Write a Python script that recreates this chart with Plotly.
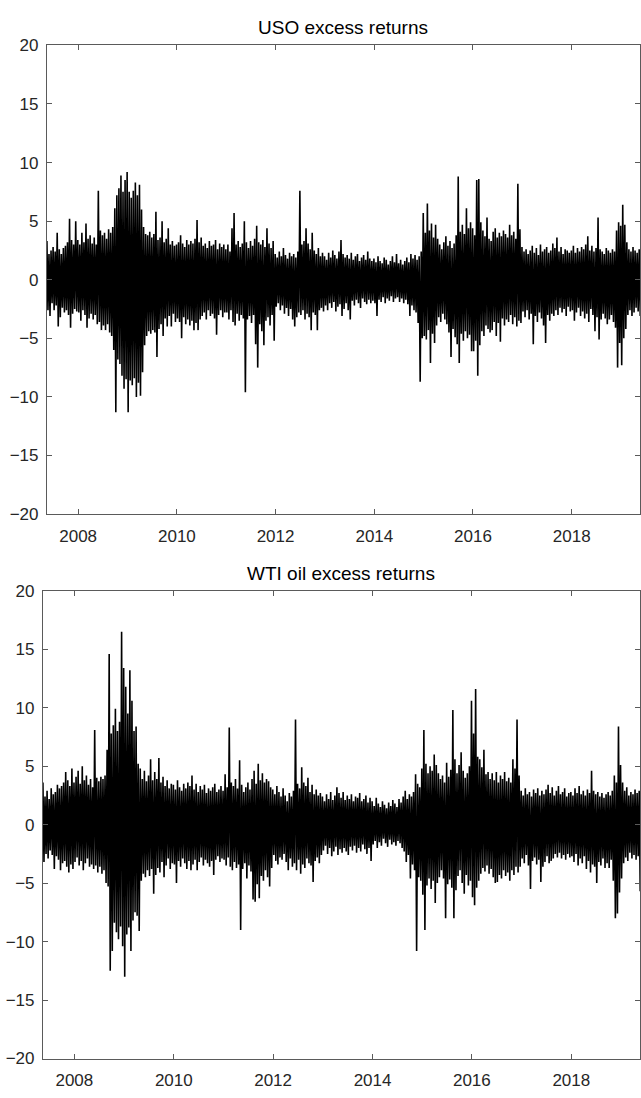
import pandas as pd
import plotly.graph_objects as go

# ---------------- data (half-monthly envelope of daily excess returns, %) ----------------
# Each half-month gives the highest and lowest daily value seen in the picture.
start_date = "2007-05-15"
n_periods = 289

uso_high = [
    3.3, 2.2, 2.5, 2.8, 2.4, 4.0, 2.6, 2.2, 2.7, 2.9, 3.2, 5.2, 3.4, 3.0, 5.0,                      # 2007
    3.4, 3.0, 4.0, 3.2, 4.8, 3.5, 3.8, 3.1, 3.6, 3.0, 7.6, 4.2, 3.8, 4.0, 3.5, 4.3, 4.0, 4.5, 6.1, 7.2, 7.8, 8.9, 7.5, 8.5,  # 2008
    9.2, 7.5, 7.0, 7.6, 8.3, 7.2, 8.1, 6.0, 4.5, 3.9, 3.8, 4.1, 3.6, 3.9, 5.8, 3.4, 3.6, 5.0, 3.2, 3.5, 4.4, 3.0, 3.3, 2.9,  # 2009
    3.0, 3.2, 3.8, 3.1, 2.8, 3.4, 3.0, 3.3, 3.1, 3.5, 5.1, 3.2, 3.6, 2.9, 3.1, 2.7, 3.3, 2.9, 3.0, 3.4, 2.6, 3.1, 2.8, 3.0,  # 2010
    2.6, 3.0, 2.4, 4.4, 5.7, 3.0, 3.3, 2.8, 3.1, 5.0, 3.2, 2.7, 3.3, 2.9, 3.5, 4.6, 3.2, 3.0, 3.4, 2.8, 4.4, 3.1, 2.7, 3.3,  # 2011
    2.2, 1.9, 2.4, 2.0, 2.7, 2.1, 1.8, 2.3, 2.0, 2.2, 1.9, 2.4, 7.6, 3.0, 3.3, 4.4, 3.1, 2.6, 4.0, 2.5, 2.2, 2.7, 2.0, 2.3,  # 2012
    2.0, 1.7, 2.3, 1.9, 2.5, 2.1, 1.8, 2.4, 3.4, 2.2, 1.9, 2.1, 1.8, 2.3, 1.7, 2.0, 2.2, 1.6, 1.9, 2.1, 1.7, 2.4, 1.8, 1.6,  # 2013
    1.8, 1.5, 2.0, 1.6, 1.4, 1.9, 1.7, 1.3, 1.6, 2.0, 1.5, 2.2, 1.4, 1.7, 1.3, 1.6, 1.9, 1.5, 2.2, 1.8, 2.1, 1.7, 2.0, 2.4,  # 2014
    5.7, 4.0, 6.5, 4.2, 4.8, 3.6, 4.7, 3.5, 3.0, 2.6, 3.2, 3.7, 2.9, 3.3, 2.7, 3.1, 3.8, 8.8, 4.1, 4.7, 3.9, 6.1, 4.4, 4.9,  # 2015
    4.4, 3.8, 8.5, 8.6, 4.9, 4.2, 3.7, 5.3, 3.5, 3.3, 4.1, 4.4, 3.6, 4.0, 3.7, 4.2, 3.9, 3.6, 4.7, 3.8, 4.1, 3.5, 8.2, 4.3,  # 2016
    2.8, 2.4, 2.6, 2.2, 2.5, 2.9, 2.3, 2.7, 2.1, 3.0, 2.4, 2.6, 2.8, 2.3, 2.5, 3.1, 2.7, 3.6, 2.4, 2.8, 2.2, 2.6, 2.5, 2.3,  # 2017
    2.5, 2.9, 2.3, 2.7, 2.4, 2.8, 2.6, 3.0, 3.7, 2.5, 2.9, 2.4, 2.7, 5.3, 2.6, 2.4, 2.2, 2.7, 2.5, 2.3, 2.6, 2.4, 4.2, 4.9,  # 2018
    4.6, 6.4, 4.7, 3.2, 2.6, 2.4, 2.8, 2.5, 2.3, 2.6,                                              # 2019
]
uso_low = [
    -2.6, -3.1, -2.0, -2.6, -2.2, -4.0, -3.2, -2.4, -2.8, -2.6, -3.0, -4.1, -2.9, -2.5, -2.7,
    -2.8, -3.5, -2.6, -3.0, -4.1, -3.3, -2.9, -3.4, -3.0, -3.8, -3.6, -4.3, -3.9, -4.3, -3.8, -4.5, -4.8, -6.0, -11.3, -6.8, -7.2, -8.2, -9.3, -8.5,
    -11.3, -8.6, -9.0, -8.4, -10.0, -8.8, -9.9, -7.9, -5.6, -4.8, -4.4, -4.6, -4.3, -4.5, -6.6, -4.2, -3.8, -4.8, -3.3, -4.0, -3.1, -4.0, -2.9, -3.6,
    -3.3, -3.6, -5.0, -3.2, -3.8, -3.4, -3.9, -3.5, -4.3, -3.7, -4.3, -3.4, -3.1, -2.8, -3.4, -2.6, -3.1, -2.9, -3.3, -4.7, -3.0, -2.6, -3.2, -2.8,
    -2.8, -3.4, -2.6, -3.6, -3.9, -2.9, -3.5, -3.0, -3.3, -9.6, -3.4, -3.1, -3.7, -3.0, -5.5, -7.5, -3.8, -4.4, -5.6, -3.5, -3.2, -3.9, -3.0, -5.2,
    -2.3, -2.0, -2.6, -2.2, -2.9, -2.4, -3.1, -2.5, -3.4, -4.0, -3.2, -2.8, -3.0, -2.6, -3.4, -2.9, -3.2, -4.3, -2.8, -3.0, -4.3, -2.6, -2.4, -2.7,
    -2.2, -2.6, -2.0, -2.4, -1.9, -2.7, -2.3, -2.1, -3.1, -2.5, -2.0, -2.6, -3.4, -1.8, -2.2, -1.7, -2.0, -2.4, -1.6, -1.9, -2.1, -1.7, -2.0, -1.8,
    -2.0, -3.1, -1.7, -1.9, -1.5, -2.0, -1.6, -1.8, -1.4, -1.9, -1.6, -1.5, -1.9, -1.6, -2.0, -1.7, -2.1, -3.1, -2.2, -2.6, -2.8, -3.7, -8.7, -5.0,
    -4.8, -5.1, -4.3, -7.1, -4.6, -5.4, -3.9, -3.2, -3.6, -2.9, -3.4, -3.8, -4.5, -6.6, -4.2, -4.9, -5.5, -7.1, -4.6, -5.2, -4.4, -5.0, -4.7, -6.1,
    -6.1, -5.2, -8.2, -5.6, -4.4, -4.8, -3.9, -4.2, -4.5, -4.3, -3.6, -4.8, -3.7, -5.3, -3.3, -3.9, -3.4, -3.6, -3.0, -3.8, -3.2, -4.0, -3.5, -3.7,
    -2.7, -3.2, -2.6, -3.4, -2.9, -5.5, -3.1, -3.6, -2.8, -3.3, -3.9, -5.4, -3.0, -3.5, -2.9, -3.1, -2.6, -3.0, -2.4, -2.8, -2.5, -3.1, -2.3, -2.7,
    -2.6, -3.5, -2.8, -2.4, -3.1, -2.7, -3.3, -2.9, -3.6, -2.5, -3.0, -4.4, -3.2, -5.1, -3.4, -2.9, -3.3, -3.8, -3.4, -3.0, -3.6, -4.1, -7.5, -5.4,
    -7.3, -5.0, -4.2, -3.0, -2.6, -3.1, -2.8, -2.4, -2.7, -3.1,
]
wti_high = [
    3.6, 2.4, 2.9, 2.2, 3.1, 2.6, 2.8, 3.4, 3.1, 3.3, 3.6, 4.5, 3.8, 3.3, 4.8,
    3.6, 4.1, 4.6, 3.5, 5.0, 3.8, 4.2, 3.4, 3.9, 3.2, 8.1, 4.0, 3.7, 4.1, 3.9, 4.2, 6.4, 14.6, 7.8, 8.5, 9.9, 8.0, 8.8, 16.5,
    13.4, 11.8, 9.5, 13.2, 10.6, 8.0, 8.4, 5.2, 4.8, 3.9, 4.6, 3.7, 4.2, 5.6, 3.8, 4.5, 3.9, 5.7, 3.6, 4.1, 3.3, 3.8, 3.1, 3.5,
    3.4, 3.0, 3.8, 3.2, 2.9, 3.5, 3.1, 3.6, 3.3, 4.2, 3.0, 3.5, 2.8, 3.3, 3.0, 3.4, 2.7, 3.1, 2.9, 3.2, 3.5, 2.8, 3.0, 3.3,
    2.9, 4.3, 3.2, 8.3, 3.6, 3.3, 3.9, 3.1, 5.5, 3.4, 2.8, 3.2, 3.6, 3.0, 3.9, 4.6, 3.5, 5.2, 3.8, 4.4, 3.6, 3.9, 3.7, 3.2,
    3.0, 2.6, 3.3, 2.8, 2.4, 3.1, 2.5, 2.0, 2.7, 2.4, 2.9, 9.0, 3.5, 3.1, 4.9, 3.6, 3.3, 4.0, 2.8, 3.4, 2.6, 3.0, 2.5, 2.7,
    2.4, 2.0, 2.6, 2.2, 2.8, 2.1, 2.5, 3.2, 2.7, 2.3, 2.8, 2.1, 2.5, 2.2, 2.6, 2.0, 2.4, 2.3, 2.7, 2.0, 2.2, 2.5, 1.9, 2.3,
    2.0, 1.6, 2.3, 1.8, 1.5, 2.0, 1.7, 1.4, 1.9, 1.6, 2.1, 1.8, 1.5, 2.2, 1.9, 2.4, 2.9, 2.2, 2.6, 2.4, 2.8, 4.3, 3.5, 3.2,
    4.8, 8.1, 5.2, 4.4, 5.0, 4.6, 6.0, 5.1, 4.4, 3.9, 4.2, 3.6, 5.3, 4.1, 4.7, 9.8, 5.6, 4.4, 5.1, 6.2, 4.6, 4.0, 4.4, 5.0,
    10.6, 7.8, 11.6, 5.8, 5.6, 4.9, 6.4, 4.3, 4.5, 3.9, 4.4, 3.8, 4.5, 3.6, 4.2, 3.9, 4.5, 3.7, 4.0, 3.6, 5.6, 4.8, 9.0, 4.2,
    2.9, 2.5, 3.1, 2.6, 2.8, 2.4, 3.0, 2.7, 3.1, 2.5, 2.9, 2.6, 3.0, 3.4, 2.7, 3.2, 2.5, 2.9, 3.3, 2.6, 2.8, 3.1, 2.4, 2.7,
    2.8, 2.5, 3.1, 2.7, 3.3, 2.6, 2.9, 2.5, 3.0, 2.7, 4.6, 2.9, 2.6, 2.8, 2.4, 2.7, 2.3, 2.6, 2.8, 2.5, 2.9, 4.2, 3.6, 8.4,
    5.1, 3.6, 2.9, 3.2, 2.5, 2.8, 2.6, 3.0, 2.7, 2.9,
]
wti_low = [
    -3.2, -2.5, -2.9, -2.2, -2.6, -3.8, -2.7, -3.0, -3.9, -3.3, -3.1, -3.6, -4.1, -3.4, -3.8,
    -3.2, -2.8, -3.5, -3.1, -3.9, -3.3, -2.9, -3.6, -3.4, -3.8, -3.5, -4.1, -3.6, -4.2, -3.9, -5.0, -5.3, -12.5, -10.8, -8.4, -9.2, -9.8, -8.7, -10.4,
    -13.0, -9.4, -8.8, -10.8, -8.2, -7.5, -7.8, -9.1, -4.8, -4.2, -4.5, -3.9, -4.4, -3.8, -5.9, -4.3, -3.7, -4.1, -3.2, -4.5, -3.5, -2.9, -3.8, -3.3,
    -3.4, -5.0, -3.1, -3.6, -2.9, -3.3, -3.8, -3.1, -3.9, -3.4, -3.0, -3.9, -3.2, -2.8, -3.5, -3.0, -3.3, -3.6, -3.1, -4.3, -3.0, -2.7, -3.2, -2.9,
    -3.0, -3.5, -2.8, -3.6, -3.9, -3.2, -3.7, -3.4, -9.0, -3.8, -3.3, -4.6, -3.5, -4.0, -6.4, -6.6, -5.1, -6.3, -4.4, -4.8, -3.9, -4.5, -5.3, -3.7,
    -2.6, -3.1, -3.4, -2.8, -3.0, -2.5, -3.2, -3.9, -2.9, -3.6, -3.3, -3.9, -3.0, -4.2, -3.4, -3.7, -2.9, -3.3, -3.5, -4.9, -3.1, -2.8, -3.3, -2.6,
    -2.2, -1.8, -2.5, -2.0, -2.7, -2.3, -1.9, -2.6, -2.1, -2.4, -2.0, -2.3, -2.6, -1.9, -2.2, -1.8, -2.4, -2.0, -2.3, -1.7, -2.1, -2.5, -2.0, -3.1,
    -1.7, -1.4, -2.0, -1.5, -1.8, -1.2, -1.6, -1.9, -1.3, -1.7, -1.5, -1.8, -1.4, -1.6, -2.0, -2.3, -3.2, -2.6, -4.6, -3.4, -3.9, -10.8, -4.5, -4.8,
    -6.0, -9.0, -5.2, -4.6, -5.5, -4.8, -6.7, -5.0, -4.5, -3.9, -4.6, -8.0, -5.1, -4.7, -5.4, -8.0, -5.6, -4.4, -3.9, -5.0, -5.9, -4.3, -5.2, -4.8,
    -6.2, -6.9, -5.4, -4.8, -4.2, -3.7, -4.0, -3.5, -4.2, -3.8, -4.5, -5.0, -4.9, -4.3, -4.6, -3.9, -4.4, -4.1, -4.8, -3.9, -4.3, -3.6, -4.1, -3.6,
    -2.9, -3.3, -2.6, -3.5, -5.5, -3.1, -2.8, -3.4, -3.0, -4.9, -3.6, -3.2, -2.7, -3.3, -3.1, -2.9, -2.5, -2.8, -2.4, -2.9, -2.6, -3.0, -2.5, -2.8,
    -2.7, -3.2, -2.5, -3.5, -2.9, -3.3, -2.7, -3.8, -3.1, -4.1, -3.4, -3.6, -5.0, -3.2, -3.5, -2.9, -3.7, -3.3, -3.7, -3.0, -4.8, -8.0, -7.6, -5.8,
    -4.6, -3.3, -2.8, -3.1, -2.4, -2.9, -2.6, -3.0, -2.7, -5.7,
]

titles = ["USO excess returns", "WTI oil excess returns"]
year_ticks = ["2008", "2010", "2012", "2014", "2016", "2018"]
y_ticks = [-20, -15, -10, -5, 0, 5, 10, 15, 20]
x_range = ["2007-05-15", "2019-05-21"]

for arr in (uso_high, uso_low, wti_high, wti_low):
    assert len(arr) == n_periods, len(arr)

# ---------------- build series (evenly spaced half-months) ----------------
half_month = pd.Timedelta(days=365.25 / 24)
hi_dates = [pd.Timestamp(start_date) + k * half_month for k in range(n_periods)]
lo_dates = [d + half_month / 2 for d in hi_dates]


def interleave(high, low):
    xs, ys = [], []
    for dh, dl, h, l in zip(hi_dates, lo_dates, high, low):
        xs += [dh, dl]
        ys += [h, l]
    return xs, ys


ink = "#262626"
font_family = "Liberation Sans, Arial, Helvetica, sans-serif"

fig = go.Figure()
for i, (hi, lo) in enumerate([(uso_high, uso_low), (wti_high, wti_low)]):
    xs, ys = interleave(hi, lo)
    sfx = "" if i == 0 else "2"
    fig.add_trace(go.Scatter(x=xs, y=ys, mode="lines",
                             line=dict(color="black", width=1.6),
                             xaxis="x" + sfx, yaxis="y" + sfx,
                             showlegend=False, hoverinfo="skip"))

W, H = 641, 1098
panels = [
    dict(left=47, top=37, bottom=514),
    dict(left=43, top=592, bottom=1068),
]

tick_dates = [pd.Timestamp(f"{y}-01-01") for y in year_ticks]

axis_common = dict(showgrid=False, zeroline=False, showline=True, linecolor="#5a5a5a",
                   linewidth=1, mirror="ticks", ticks="inside", ticklen=5,
                   tickcolor="#5a5a5a", tickwidth=1,
                   tickfont=dict(family=font_family, size=17, color=ink))

annotations = []
for i, p in enumerate(panels):
    sfx = "" if i == 0 else "2"
    xdom = [p["left"] / W, 1.0]
    ydom = [(H - p["bottom"]) / H, (H - p["top"]) / H]
    fig.update_layout(**{
        "xaxis" + sfx: dict(domain=xdom, range=x_range, type="date",
                            tickvals=tick_dates, ticktext=year_ticks,
                            anchor="y" + sfx, ticklabelstandoff=6, **axis_common),
        "yaxis" + sfx: dict(domain=ydom, range=[-20, 20], tickvals=y_ticks,
                            anchor="x" + sfx, ticklabelstandoff=4, **axis_common),
    })
    annotations.append(dict(text=titles[i], xref="paper", yref="paper",
                            x=(xdom[0] + xdom[1]) / 2, y=ydom[1],
                            xanchor="center", yanchor="bottom", yshift=5,
                            showarrow=False,
                            font=dict(family=font_family, size=19, color="black")))

fig.update_layout(width=W, height=H, margin=dict(l=0, r=0, t=0, b=0),
                  paper_bgcolor="white", plot_bgcolor="white",
                  annotations=annotations)

fig.write_html("out.html", config={"displayModeBar": False})
